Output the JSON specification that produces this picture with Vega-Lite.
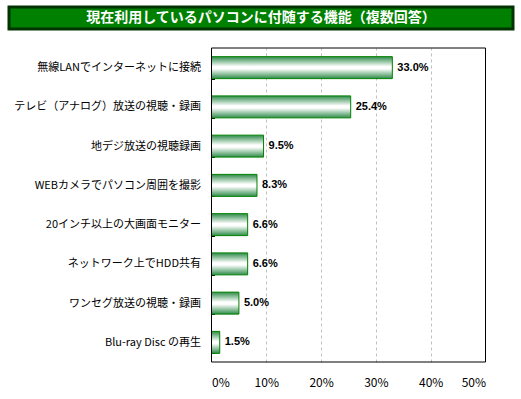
{
  "$schema": "https://vega.github.io/schema/vega-lite/v6.json",
  "padding": {"left": 7, "top": 5, "right": 5, "bottom": 5},
  "spacing": 11,
  "background": "white",
  "config": {"view": {"stroke": null}, "font": "Noto Sans CJK JP"},
  "vconcat": [
    {
      "width": 504,
      "height": 22,
      "view": {"fill": "#008000", "stroke": "#003300", "strokeWidth": 3},
      "data": {"values": [{"t": "現在利用しているパソコンに付随する機能（複数回答）"}]},
      "mark": {"type": "text", "color": "white", "fontWeight": "bold", "fontSize": 14, "font": "Noto Sans CJK JP"},
      "encoding": {"text": {"field": "t", "type": "nominal"}}
    },
    {
      "width": 504,
      "height": 314,
      "data": {
        "values": [
          {"label": "無線LANでインターネットに接続", "v": 33.0},
          {"label": "テレビ（アナログ）放送の視聴・録画", "v": 25.4},
          {"label": "地デジ放送の視聴録画", "v": 9.5},
          {"label": "WEBカメラでパソコン周囲を撮影", "v": 8.3},
          {"label": "20インチ以上の大画面モニター", "v": 6.6},
          {"label": "ネットワーク上でHDD共有", "v": 6.6},
          {"label": "ワンセグ放送の視聴・録画", "v": 5.0},
          {"label": "Blu-ray Disc の再生", "v": 1.5}
        ]
      },
      "layer": [
        {
          "mark": {
            "type": "bar",
            "stroke": "#008000",
            "strokeWidth": 1,
            "fill": {
              "gradient": "linear",
              "x1": 0, "y1": 0, "x2": 0, "y2": 1,
              "stops": [
                {"offset": 0, "color": "#2e8b4a"},
                {"offset": 0.45, "color": "#ffffff"},
                {"offset": 0.55, "color": "#ffffff"},
                {"offset": 1, "color": "#2e8b4a"}
              ]
            }
          },
          "encoding": {
            "y": {
              "field": "label",
              "type": "nominal",
              "sort": null,
              "title": null,
              "scale": {"paddingInner": 0.44, "paddingOuter": 0.22},
              "axis": {
                "domain": false,
                "offset": -202.5,
                "ticks": true,
                "tickBand": "extent",
                "tickSize": -3,
                "tickColor": "black",
                "labelPadding": 14,
                "labelFontSize": 11,
                "labelColor": "black",
                "labelFont": "Noto Sans CJK JP",
                "minExtent": 0,
                "maxExtent": 250,
                "labelLimit": 0
              }
            },
            "x": {
              "field": "v",
              "type": "quantitative",
              "title": null,
              "scale": {"domain": [0, 50], "nice": false, "range": [202.5, 476.5]},
              "axis": {
                "values": [0, 10, 20, 30, 40, 50],
                "domain": false,
                "ticks": false,
                "grid": true,
                "gridColor": "#c0c0c0",
                "gridDash": [3, 3],
                "gridWidth": 1,
                "gridOpacity": {"condition": {"test": "datum.value == 0 || datum.value == 50", "value": 0}, "value": 1},
                "labelExpr": "datum.value + '%'",
                "labelFontSize": 12,
                "labelColor": "black",
                "labelFont": "Noto Sans CJK JP",
                "labelPadding": 15
              }
            }
          }
        },
        {
          "mark": {
            "type": "text",
            "align": "left",
            "dx": 5,
            "font": "Liberation Sans",
            "fontWeight": "bold",
            "fontSize": 11,
            "color": "black",
            "text": {"expr": "format(datum.v, '.1f') + '%'"}
          },
          "encoding": {
            "y": {"field": "label", "type": "nominal", "sort": null},
            "x": {"field": "v", "type": "quantitative"}
          }
        },
        {
          "data": {"values": [{"lo": 0, "hi": 50}]},
          "mark": {"type": "rect", "fill": null, "stroke": "black", "strokeWidth": 1},
          "encoding": {
            "x": {"field": "lo", "type": "quantitative"},
            "x2": {"field": "hi"}
          }
        }
      ]
    }
  ]
}
